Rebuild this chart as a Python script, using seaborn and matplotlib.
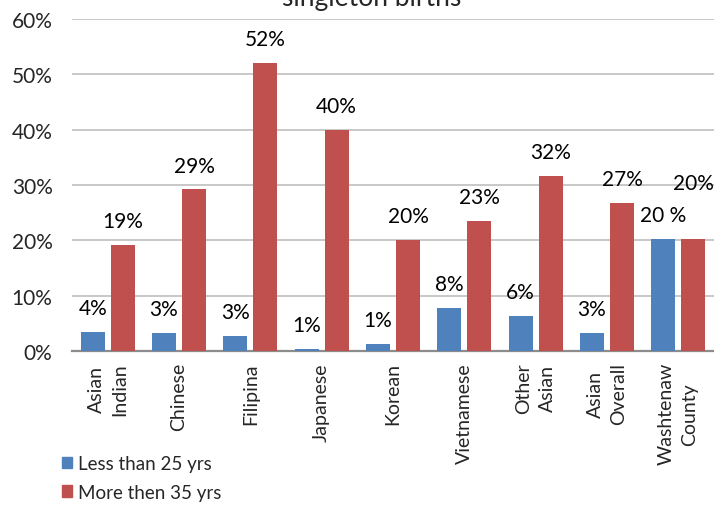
import matplotlib
matplotlib.use("Agg")
import matplotlib.pyplot as plt
import seaborn as sns
import pandas as pd

# values (share of singleton births)
categories = ["Asian\nIndian", "Chinese", "Filipina", "Japanese", "Korean",
              "Vietnamese", "Other\nAsian", "Asian\nOverall", "Washtenaw\nCounty"]
series_names = ["Less than 25 yrs", "More then 35 yrs"]
under_25 = [0.035, 0.033, 0.027, 0.004, 0.013, 0.078, 0.063, 0.032, 0.203]
over_35 = [0.192, 0.292, 0.521, 0.399, 0.201, 0.235, 0.317, 0.267, 0.203]
under_25_labels = ["4%", "3%", "3%", "1%", "1%", "8%", "6%", "3%", "20 %"]
over_35_labels = ["19%", "29%", "52%", "40%", "20%", "23%", "32%", "27%", "20%"]
yticks = [0, 0.1, 0.2, 0.3, 0.4, 0.5, 0.6]
ytick_labels = ["0%", "10%", "20%", "30%", "40%", "50%", "60%"]
title = "singleton births"

colors = ["#4F81BD", "#C0504D"]

df = pd.DataFrame({
    "group": categories * 2,
    "age": [series_names[0]] * len(categories) + [series_names[1]] * len(categories),
    "share": under_25 + over_35,
})

sns.set_style("white")
plt.rcParams["font.family"] = ["Lato", "DejaVu Sans"]

fig = plt.figure(figsize=(7.14, 5.06), dpi=100)
ax = fig.add_axes([72 / 714, 1 - 352 / 506, 642 / 714, 332 / 506])

sns.barplot(data=df, x="group", y="share", hue="age", hue_order=series_names,
            palette=colors, width=0.84, gap=0.2, saturation=1, ax=ax,
            errorbar=None, legend=True, linewidth=0, edgecolor="none", zorder=3)

ax.set_ylim(0, 0.6)
ax.set_xlim(-0.5, len(categories) - 0.5)
ax.set_yticks(yticks)
ax.set_yticklabels(ytick_labels, fontsize=15)
ax.yaxis.grid(True, color="#BFBFBF", linewidth=1.2, zorder=0)
ax.set_axisbelow(True)
ax.set_xlabel("")
ax.set_ylabel("")
ax.tick_params(axis="y", length=0, pad=14)
ax.tick_params(axis="x", length=0, pad=8)
ax.set_xticks(range(len(categories)))
ax.set_xticklabels(categories, rotation=90, fontsize=14, ha="center",
                   va="top", multialignment="center", linespacing=1.45)
for side in ["top", "right", "left"]:
    ax.spines[side].set_visible(False)
ax.spines["bottom"].set_color("#8C8C8C")
ax.spines["bottom"].set_linewidth(1.6)

# data labels above each bar
for cont, labels in zip(ax.containers, [under_25_labels, over_35_labels]):
    for i, (bar, lab) in enumerate(zip(cont, labels)):
        extra = 0
        if cont is ax.containers[1] and i == len(labels) - 1:
            extra = 23
        ax.annotate(lab, (bar.get_x() + bar.get_width() / 2, bar.get_height()),
                    xytext=(0, 10 + extra), textcoords="offset points",
                    ha="center", va="bottom", fontsize=15, color="black",
                    annotation_clip=False)

ax.get_legend().remove()
handles = [plt.Rectangle((0, 0), 1, 1, color=c) for c in colors]
fig.legend(handles, series_names, loc="upper left",
           bbox_to_anchor=(62 / 714, 1 - 456 / 506), frameon=False,
           fontsize=13.5, borderpad=0, borderaxespad=0, handlelength=0.55,
           handleheight=0.55, handletextpad=0.3, labelspacing=0.62)

fig.text(372 / 714, 1 - 6 / 506, title, ha="center", va="baseline", fontsize=19)

fig.savefig("out.png", dpi=100)
